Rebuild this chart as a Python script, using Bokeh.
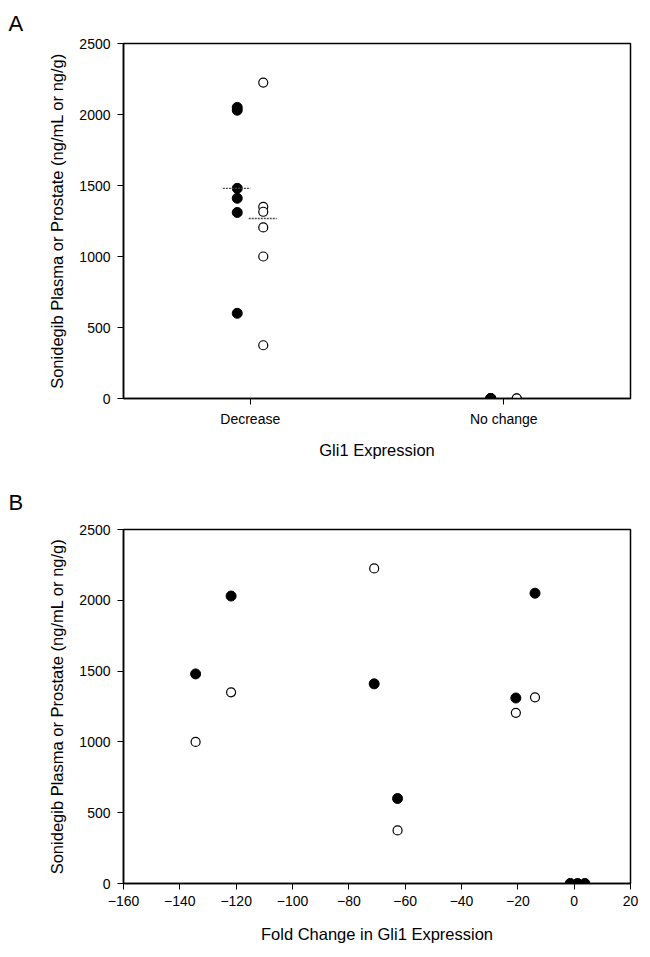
from bokeh.plotting import figure
from bokeh.layouts import column
from bokeh.models import FixedTicker, Range1d, FactorRange, ColumnDataSource
from bokeh.transform import dodge
from bokeh.embed import file_html
from bokeh.resources import INLINE

# ---------------- data ----------------
categories = ["Decrease", "No change"]
gli1_group = ["Decrease"] * 6 + ["No change"] * 3
fold_change = [-134.4, -121.8, -71.0, -62.7, -20.7, -13.9, -1.4, 1.2, 3.8]
filled_vals = [1480, 2030, 1410, 600, 1310, 2050, 0, 0, 0]
open_vals = [1000, 1350, 2225, 375, 1205, 1315, 0, 0, 0]
mean_group = ["Decrease"]
mean_filled = [1480]
mean_open = [1268]
y_ticks = [0, 500, 1000, 1500, 2000, 2500]
x_ticks_b = [-160, -140, -120, -100, -80, -60, -40, -20, 0, 20]

FONT = "Liberation Sans"
Y_TITLE = "Sonidegib Plasma or Prostate (ng/mL or ng/g)"


def style(p, letter, standoff):
    p.xgrid.visible = False
    p.ygrid.visible = False
    p.outline_line_color = "black"
    p.outline_line_width = 1.5
    p.background_fill_color = "white"
    p.border_fill_color = "white"
    for ax in (p.xaxis[0], p.yaxis[0]):
        ax.axis_line_color = "black"
        ax.axis_line_width = 1.5
        ax.major_tick_line_color = "black"
        ax.major_tick_line_width = 1
        ax.major_tick_out = 6
        ax.major_tick_in = 0
        ax.minor_tick_line_color = None
        ax.major_label_text_font = FONT
        ax.major_label_text_font_size = "14px"
        ax.major_label_text_color = "black"
        ax.axis_label_text_font = FONT
        ax.axis_label_text_font_size = "16.5px"
        ax.axis_label_text_font_style = "normal"
        ax.axis_label_text_color = "black"
    p.yaxis[0].major_label_standoff = 7
    p.yaxis[0].axis_label_standoff = 10
    p.xaxis[0].major_label_standoff = 6
    p.xaxis[0].axis_label_standoff = 11
    p.yaxis[0].axis_label = Y_TITLE
    p.yaxis[0].ticker = FixedTicker(ticks=y_ticks)
    p.title.text = letter
    p.title.text_font = FONT
    p.title.text_font_size = "22px"
    p.title.text_font_style = "normal"
    p.title.text_color = "black"
    p.title.align = "left"
    p.title.offset = -115
    p.title.standoff = standoff


# ---------------- panel A ----------------
src_a = ColumnDataSource(dict(g=gli1_group, f=filled_vals, o=open_vals))
pA = figure(width=640, height=470, x_range=FactorRange(factors=categories),
            y_range=Range1d(0, 2500), output_backend="svg", toolbar_location=None,
            min_border_left=123, min_border_right=10, min_border_top=43,
            min_border_bottom=72)
style(pA, "A", 15)
pA.xaxis[0].axis_label = "Gli1 Expression"

pA.scatter(x=dodge("g", 0.0513, range=pA.x_range), y="o", source=src_a, size=9,
           fill_color="white", line_color="black", line_width=1.2)
pA.scatter(x=dodge("g", -0.0513, range=pA.x_range), y="f", source=src_a, size=10,
           fill_color="black", line_color="black")

src_m = ColumnDataSource(dict(g=mean_group, f=mean_filled, o=mean_open))
pA.segment(x0=dodge("g", -0.108, range=pA.x_range), x1=dodge("g", 0.0, range=pA.x_range),
           y0="f", y1="f", source=src_m, line_color="#4a4a4a", line_width=1.4,
           line_dash="2 1")
pA.segment(x0=dodge("g", -0.006, range=pA.x_range), x1=dodge("g", 0.104, range=pA.x_range),
           y0="o", y1="o", source=src_m, line_color="#4a4a4a", line_width=1.4,
           line_dash="2 1")

# ---------------- panel B ----------------
src_b = ColumnDataSource(dict(x=fold_change, f=filled_vals, o=open_vals))
pB = figure(width=640, height=480, x_range=Range1d(-160, 20), y_range=Range1d(0, 2500),
            output_backend="svg", toolbar_location=None,
            min_border_left=123, min_border_right=10, min_border_top=59,
            min_border_bottom=67)
style(pB, "B", 30)
pB.xaxis[0].axis_label = "Fold Change in Gli1 Expression"
pB.xaxis[0].ticker = FixedTicker(ticks=x_ticks_b)
pB.xaxis[0].axis_label_standoff = 16

pB.scatter(x="x", y="o", source=src_b, size=9, fill_color="white",
           line_color="black", line_width=1.2)
pB.scatter(x="x", y="f", source=src_b, size=10, fill_color="black",
           line_color="black")

layout = column(pA, pB)
open("out.html", "w").write(file_html(layout, INLINE))
